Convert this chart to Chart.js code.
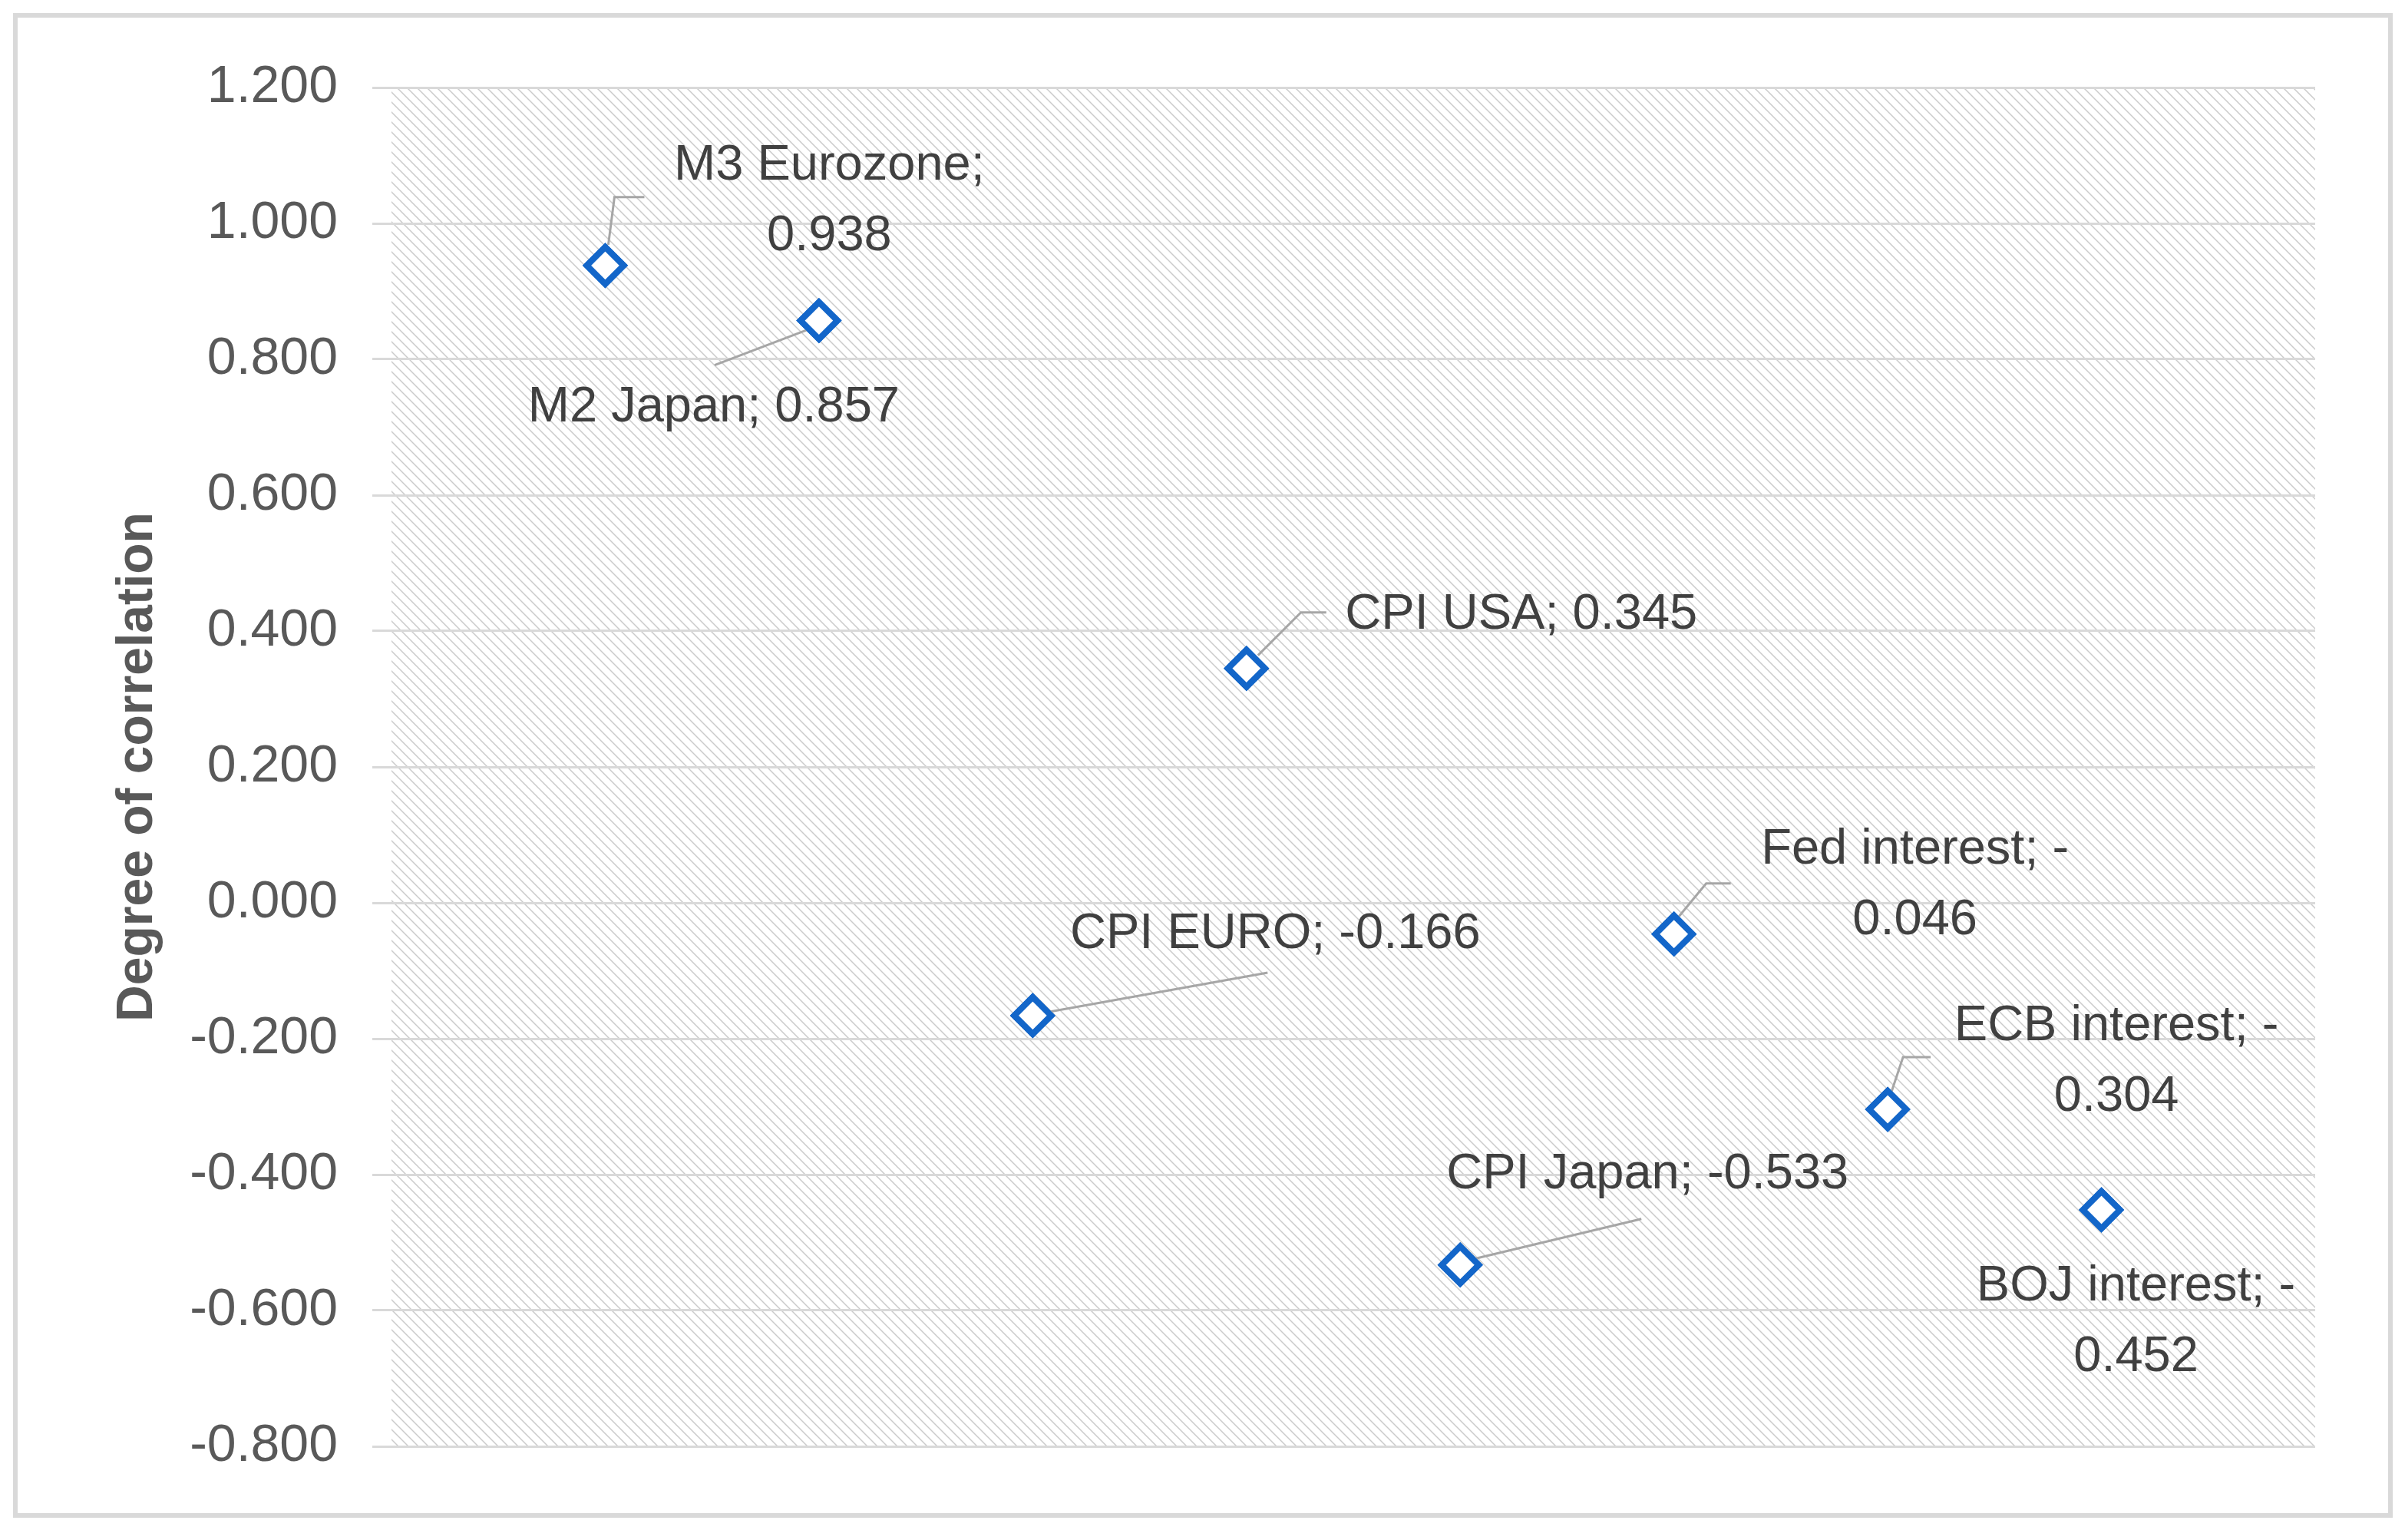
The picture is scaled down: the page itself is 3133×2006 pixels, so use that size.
<!DOCTYPE html>
<html>
<head>
<meta charset="utf-8">
<script src="https://cdn.jsdelivr.net/npm/chart.js@4.4.1/dist/chart.umd.min.js"></script>
<style>
html, body { margin: 0; padding: 0; background: #fff; }
</style>
</head>
<body>
<canvas id="myChart" width="3133" height="2006"></canvas>
<script>
// data, in order along the x axis
const names = ['M3 Eurozone', 'M2 Japan', 'CPI EURO', 'CPI USA', 'CPI Japan', 'Fed interest', 'ECB interest', 'BOJ interest'];
const values = [0.938, 0.857, -0.166, 0.345, -0.533, -0.046, -0.304, -0.452];
const positions = [1, 2, 3, 4, 5, 6, 7, 8];
const yTicks = [1.2, 1.0, 0.8, 0.6, 0.4, 0.2, 0.0, -0.2, -0.4, -0.6, -0.8];

// label placement (pixels relative to the point) and leader lines
const labelPlace = [
    { dx: 292, dy: -84, wrap: true, leader: [[4, -27], [12, -89], [51, -89]] },
    { dx: -137, dy: 114, wrap: false, leader: [[-10, 10], [-136, 58]] },
    { dx: 316, dy: -106, wrap: false, leader: [[16, -4], [306, -56]] },
    { dx: 358, dy: -70, wrap: false, leader: [[15, -17], [71, -73], [104, -73]] },
    { dx: 244, dy: -118, wrap: false, leader: [[10, -6], [236, -60]] },
    { dx: 314, dy: -64, wrap: true, leader: [[4, -20], [42, -66], [74, -66]] },
    { dx: 298, dy: -62, wrap: true, leader: [[4, -20], [20, -68], [56, -68]] },
    { dx: 45, dy: 146, wrap: true, leader: null }
];

const LABEL_FONT = '65px "Liberation Sans", Arial, sans-serif';
const TEXT_GREY = '#404040';

// diagonal hatch for the plot area
function makeHatch() {
    const p = 13;
    const c = document.createElement('canvas');
    c.width = p; c.height = p;
    const g = c.getContext('2d');
    g.strokeStyle = '#cbcbcb';
    g.lineWidth = 1.5;
    g.beginPath();
    g.moveTo(-1, -1); g.lineTo(p + 1, p + 1);
    g.moveTo(p - 2, -2); g.lineTo(p + 2, 2);
    g.moveTo(-2, p - 2); g.lineTo(2, p + 2);
    g.stroke();
    return c;
}

const frame = {
    id: 'frame',
    beforeDraw(chart) {
        const ctx = chart.ctx;
        const a = chart.chartArea;
        ctx.save();
        ctx.fillStyle = '#fff';
        ctx.fillRect(0, 0, chart.width, chart.height);
        ctx.strokeStyle = '#d9d9d9';
        ctx.lineWidth = 6;
        ctx.strokeRect(20, 20, 3094, 1954);
        ctx.fillStyle = ctx.createPattern(makeHatch(), 'repeat');
        ctx.fillRect(a.left, a.top, a.right - a.left, a.bottom - a.top);
        ctx.restore();
    }
};

const dataLabels = {
    id: 'dataLabels',
    afterDatasetsDraw(chart) {
        const ctx = chart.ctx;
        const meta = chart.getDatasetMeta(0);
        ctx.save();
        meta.data.forEach((pt, i) => {
            const pl = labelPlace[i];
            if (pl.leader) {
                ctx.strokeStyle = '#a6a6a6';
                ctx.lineWidth = 3;
                ctx.beginPath();
                pl.leader.forEach((q, k) => {
                    if (k === 0) ctx.moveTo(pt.x + q[0], pt.y + q[1]);
                    else ctx.lineTo(pt.x + q[0], pt.y + q[1]);
                });
                ctx.stroke();
            }
        });
        // redraw points above leaders
        meta.data.forEach(pt => pt.draw(ctx));
        ctx.font = LABEL_FONT;
        ctx.fillStyle = TEXT_GREY;
        ctx.textAlign = 'center';
        ctx.textBaseline = 'middle';
        meta.data.forEach((pt, i) => {
            const pl = labelPlace[i];
            const num = values[i].toFixed(3);
            const full = names[i] + '; ' + num;
            let lines = [full];
            if (pl.wrap) {
                const tail = num.replace('-', '');
                lines = [full.slice(0, full.length - tail.length).trim(), tail];
            }
            const lh = 92;
            const y0 = pt.y + pl.dy - (lines.length - 1) * lh / 2;
            lines.forEach((s, k) => ctx.fillText(s, pt.x + pl.dx, y0 + k * lh));
        });
        ctx.restore();
    }
};

const ctx = document.getElementById('myChart').getContext('2d');
new Chart(ctx, {
    type: 'scatter',
    data: {
        datasets: [{
            label: 'Degree of correlation',
            data: positions.map((x, i) => ({ x: x, y: values[i] })),
            pointStyle: 'rectRot',
            pointRadius: 24,
            pointHoverRadius: 24,
            borderWidth: 8,
            pointBorderWidth: 8,
            borderColor: '#1366c9',
            backgroundColor: '#ffffff'
        }]
    },
    options: {
        responsive: false,
        animation: false,
        devicePixelRatio: 1,
        layout: { padding: { left: 20, right: 117, top: 114, bottom: 122 } },
        plugins: {
            legend: { display: false },
            tooltip: { enabled: false }
        },
        scales: {
            x: {
                display: false,
                min: 0,
                max: 9
            },
            y: {
                min: -0.8,
                max: 1.2,
                afterFit(scale) { scale.width = 490; },
                afterBuildTicks(scale) {
                    scale.ticks = yTicks.map(v => ({ value: v }));
                },
                ticks: {
                    padding: 45,
                    color: '#595959',
                    font: { family: '"Liberation Sans", Arial, sans-serif', size: 68 },
                    callback: v => Number(v).toFixed(3)
                },
                grid: {
                    color: '#d9d9d9',
                    lineWidth: 3,
                    drawTicks: true,
                    tickLength: 25
                },
                border: { display: false },
                title: {
                    display: true,
                    text: 'Degree of correlation',
                    color: '#595959',
                    padding: { top: 120 },
                    font: { family: '"Liberation Sans", Arial, sans-serif', size: 66, weight: 'bold' }
                }
            }
        }
    },
    plugins: [frame, dataLabels]
});
</script>
</body>
</html>
